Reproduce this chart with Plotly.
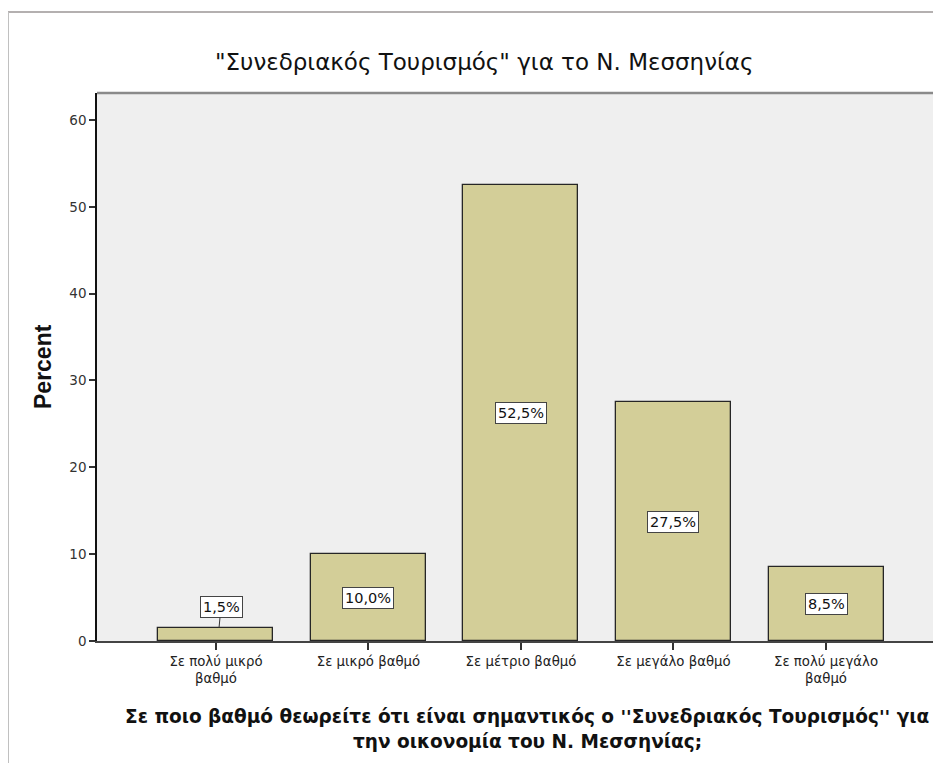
import plotly.graph_objects as go

categories = ["Σε πολύ μικρό<br>βαθμό", "Σε μικρό βαθμό", "Σε μέτριο βαθμό",
              "Σε μεγάλο βαθμό", "Σε πολύ μεγάλο<br>βαθμό"]
percent = [1.5, 10.0, 52.5, 27.5, 8.5]
y_ticks = [0, 10, 20, 30, 40, 50, 60]

title_text = '"Συνεδριακός Τουρισμός" για το Ν. Μεσσηνίας'
x_title_lines = ["Σε ποιο βαθμό θεωρείτε ότι είναι σημαντικός ο ''Συνεδριακός Τουρισμός'' για",
                 "την οικονομία του Ν. Μεσσηνίας;"]
y_title = "Percent"

# page has an 8px body margin: figure drawn from page (8, 8)
OFF = 8
W, H = 941 - OFF, 763 - OFF
L, R, T, B = 97 - OFF, 0, 93 - OFF, 122
pw = W - L - R
ph = H - T - B


def px(x):
    return (x - OFF - L) / pw


def py(y):
    return (H - B - (y - OFF)) / ph


xs = list(range(len(categories)))

fig = go.Figure()
fig.add_trace(go.Bar(
    x=xs, y=percent, width=0.754,
    marker=dict(color="#d3ce98", line=dict(color="#262626", width=1.3)),
    hoverinfo="skip",
))

lab_font = dict(family="DejaVu Sans, Verdana", size=14.5, color="#111")
ann = []
for i, v in enumerate(percent):
    label = f"{v:.1f}%".replace(".", ",")
    if v < 5:
        ann.append(dict(x=i + 0.02, y=v, text=label, showarrow=True, arrowhead=0,
                        arrowwidth=1, arrowcolor="#333", ax=2, ay=-21,
                        xref="x", yref="y", font=lab_font,
                        bgcolor="white", bordercolor="#444", borderwidth=1, borderpad=2))
    else:
        ann.append(dict(x=i, y=v / 2, text=label, showarrow=False,
                        xref="x", yref="y", font=lab_font,
                        bgcolor="white", bordercolor="#444", borderwidth=1, borderpad=2))

# titles
ann.append(dict(x=px(484), y=py(62), xref="paper", yref="paper",
                text=title_text, showarrow=False, xanchor="center", yanchor="middle",
                font=dict(family="DejaVu Sans, Verdana", size=23, color="#111")))
for k, (line, yy) in enumerate(zip(x_title_lines, [716, 741])):
    ann.append(dict(x=px(527), y=py(yy), xref="paper", yref="paper",
                    text="<b>" + line + "</b>", showarrow=False, xanchor="center", yanchor="middle",
                    font=dict(family="DejaVu Sans, Verdana", size=18.5, color="#111")))
ann.append(dict(x=px(43), y=py(367), xref="paper", yref="paper",
                text="<b>" + y_title + "</b>", showarrow=False, textangle=-90,
                xanchor="center", yanchor="middle",
                font=dict(family="Liberation Sans, Arial", size=23, color="#111")))

shapes = [
    # plot area top border
    dict(type="line", xref="paper", yref="paper", x0=0, x1=1, y0=1, y1=1,
         line=dict(color="#8a8a8a", width=2.5)),
    # outer frame
    dict(type="line", xref="paper", yref="paper", x0=px(5), x1=px(945),
         y0=py(12), y1=py(12), line=dict(color="#b4b0b0", width=2)),
    dict(type="line", xref="paper", yref="paper", x0=px(8), x1=px(8),
         y0=py(12), y1=py(770), line=dict(color="#c0c0c0", width=2)),
]

fig.update_layout(
    width=W, height=H,
    margin=dict(l=L, r=R, t=T, b=B, pad=0),
    paper_bgcolor="white", plot_bgcolor="#efefef",
    showlegend=False,
    annotations=ann, shapes=shapes,
    bargap=0,
)
fig.update_xaxes(
    range=[-0.78, 4.754], tickvals=xs, ticktext=categories,
    showline=True, linecolor="#444", linewidth=1.5,
    ticks="outside", ticklen=7, tickcolor="#333", tickwidth=1.5,
    showgrid=False, zeroline=False,
    tickfont=dict(family="DejaVu Sans, Verdana", size=13.3, color="#222"),
)
fig.update_yaxes(
    range=[0, 63.1], tickvals=y_ticks,
    showline=True, linecolor="#111", linewidth=1.5,
    ticks="outside", ticklen=6, tickcolor="#333", tickwidth=1.5,
    showgrid=False, zeroline=False,
    tickfont=dict(family="DejaVu Sans, Verdana", size=13.5, color="#333"),
)

fig.write_html("out.html")
